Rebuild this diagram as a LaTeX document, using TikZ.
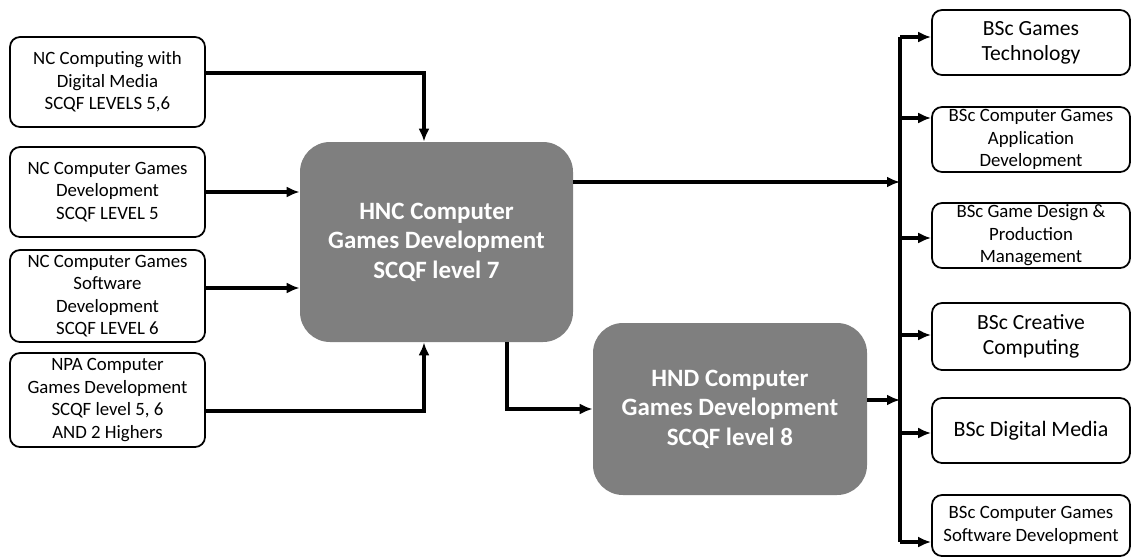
\documentclass[tikz,border=0pt]{standalone}
\usepackage{fontspec}
\setmainfont{Carlito}
\usepackage{xcolor}
\usetikzlibrary{arrows.meta,positioning,calc}
\definecolor{awardgray}{RGB}{127,127,127}

\begin{document}
\begin{tikzpicture}[>={Latex[length=2.6mm,width=2.2mm]}]
  \tikzset{entry/.style={draw, rounded corners=0.2cm, line width=1pt, align=center,
             minimum width=3.9cm, inner sep=0pt, font=\fontsize{10.7}{12.8}\selectfont},
           degree/.style={entry, minimum width=3.96cm, minimum height=1.3cm},
           award/.style={fill=awardgray, rounded corners=0.6cm, align=center, text=white,
             inner sep=0pt, font=\bfseries\fontsize{14.2}{16.8}\selectfont},
           link/.style={line width=2pt}}
    \useasboundingbox (0,0) rectangle (22.7,-11.14);

    % entry qualifications
    \node[entry, minimum height=1.8cm] (nccdm) at (2.15,-1.64) {NC Computing with\\Digital Media\\SCQF LEVELS 5,6};
    \node[entry, minimum height=1.8cm] (nccgd) at (2.15,-3.84) {NC Computer Games\\Development\\SCQF LEVEL 5};
    \node[entry, minimum height=1.84cm] (nccgsd) at (2.15,-5.92) {NC Computer Games\\Software\\Development\\SCQF LEVEL 6};
    \node[entry, minimum height=1.88cm] (npa) at (2.15,-8.0) {NPA Computer\\Games Development\\SCQF level 5, 6\\AND 2 Highers};

    % HNC and HND
    \node[award, minimum width=5.46cm, minimum height=4cm] (hnc) at (8.73,-4.84) {HNC Computer\\Games Development\\SCQF level 7};
    \node[award, minimum width=5.48cm, minimum height=3.44cm] (hnd) at (14.6,-8.18) {HND Computer\\Games Development\\SCQF level 8};

    % degrees
    \node[degree, font=\fontsize{12.3}{14.4}\selectfont] (bscgt) at (20.62,-0.85) {BSc Games\\Technology};
    \node[degree] (bsccga) at (20.62,-2.79) {BSc Computer Games\\Application\\Development};
    \node[degree] (bscgdpm) at (20.62,-4.71) {BSc Game Design \&\\Production\\Management};
    \node[degree, minimum height=1.34cm, font=\fontsize{12.3}{14.4}\selectfont] (bsccc) at (20.62,-6.73) {BSc Creative\\Computing};
    \node[degree, font=\fontsize{12.5}{14.6}\selectfont] (bscdm) at (20.62,-8.61) {BSc Digital Media};
    \node[degree, minimum height=1.22cm] (bsccgsd) at (20.62,-10.51) {BSc Computer Games\\Software Development};

    % bus
    \coordinate (bustop) at (18.0,-0.74);
    \coordinate (busbot) at (18.0,-10.84);
    \draw[link] (bustop) -- (busbot);

    % into HNC
    \draw[link,->] ([yshift=0.18cm]nccdm.east) -| ([xshift=-0.25cm]hnc.north);
    \draw[link,->] (nccgd.east) -- (nccgd.east -| hnc.west);
    \draw[link,->] ($(nccgsd.east)+(0,0.16)$) -- ($(nccgsd.east -| hnc.west)+(0,0.16)$);
    \draw[link,->] ([yshift=-0.22cm]npa.east) -| ([xshift=-0.25cm]hnc.south);

    % HNC to HND, and on to the bus
    \draw[link,->] ([xshift=1.41cm]hnc.south) |- (hnd.west);
    \draw[link,->] ($(hnc.east)+(0,1.2)$) -- ($(hnc.east -| bustop)+(0,1.2)$);
    \draw[link,->] ($(hnd.east)+(0,0.18)$) -- ($(hnd.east -| bustop)+(0,0.18)$);

    % bus to degrees
    \foreach \n/\dy in {bscgt/0.11, bsccga/0.43, bscgdpm/-0.05, bsccc/0.03, bscdm/-0.05, bsccgsd/-0.33}
      \draw[link,->] ($(bustop |- \n.west)+(0,\dy)$) -- ($(\n.west)+(0,\dy)$);
\end{tikzpicture}
\end{document}
